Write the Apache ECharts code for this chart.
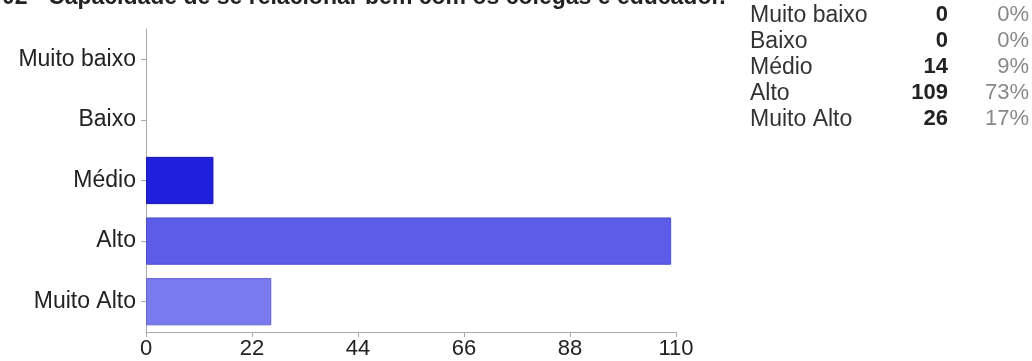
<!DOCTYPE html>
<html>
<head>
<meta charset="utf-8">
<script src="https://cdn.jsdelivr.net/npm/echarts@6/dist/echarts.min.js"></script>
<style>
html,body{margin:0;padding:0;background:#fff;}
#chart{width:1032px;height:361px;}
</style>
</head>
<body>
<div id="chart"></div>
<script>
const titleText = "02 - Capacidade de se relacionar bem com os colegas e educador.";
const categories = ["Muito baixo", "Baixo", "Médio", "Alto", "Muito Alto"];
const counts = [0, 0, 14, 109, 26];
const percents = ["0%", "0%", "9%", "73%", "17%"];
const xTicks = [0, 22, 44, 66, 88, 110];
const barColors = ["#3030e0", "#3030e0", "#1f1fdc", "#5c5ce9", "#7a7aef"];
const barBorders = ["#2020b0", "#2020b0", "#1818b0", "#4b4bc8", "#6464d0"];

const chart = echarts.init(document.getElementById('chart'), null, {renderer: 'canvas'});
const FONT = 'Liberation Sans, Arial, sans-serif';

const tableGraphics = [];
categories.forEach((c, i) => {
  const y = 16 + i * 26;
  tableGraphics.push({type: 'text', left: 750, top: y - 12, style: {text: c, font: '23px ' + FONT, fill: '#333'}});
  tableGraphics.push({type: 'text', right: 1032 - 948, top: y - 12, style: {text: String(counts[i]), font: 'bold 22px ' + FONT, fill: '#222', textAlign: 'right'}});
  tableGraphics.push({type: 'text', right: 3, top: y - 12, style: {text: percents[i], font: '22px ' + FONT, fill: '#888', textAlign: 'right'}});
});

chart.setOption({
  animation: false,
  backgroundColor: '#fff',
  grid: {left: 146, right: 356, top: 29, bottom: 29, containLabel: false},
  xAxis: {
    type: 'value', min: xTicks[0], max: xTicks[xTicks.length - 1], interval: xTicks[1] - xTicks[0],
    axisLine: {show: true, lineStyle: {color: '#aaa', width: 1}},
    axisTick: {show: true, length: 5, lineStyle: {color: '#aaa'}},
    splitLine: {show: false},
    axisLabel: {color: '#222', fontSize: 22, fontFamily: FONT, margin: 6}
  },
  yAxis: {
    type: 'category', data: categories, inverse: true,
    axisLine: {show: true, lineStyle: {color: '#aaa', width: 1}},
    axisTick: {show: true, length: 5, alignWithLabel: true, lineStyle: {color: '#aaa'}},
    axisLabel: {color: '#222', fontSize: 23, fontFamily: FONT, margin: 10}
  },
  series: [{
    type: 'bar',
    data: counts.map((v, i) => ({value: v, itemStyle: {color: barColors[i], borderColor: barBorders[i], borderWidth: v > 0 ? 1 : 0}})),
    barCategoryGap: '22%'
  }],
  graphic: [
    {type: 'text', left: 2, top: -14, style: {text: titleText, font: 'bold 23px ' + FONT, fill: '#222'}},
    ...tableGraphics
  ]
});
</script>
</body>
</html>
